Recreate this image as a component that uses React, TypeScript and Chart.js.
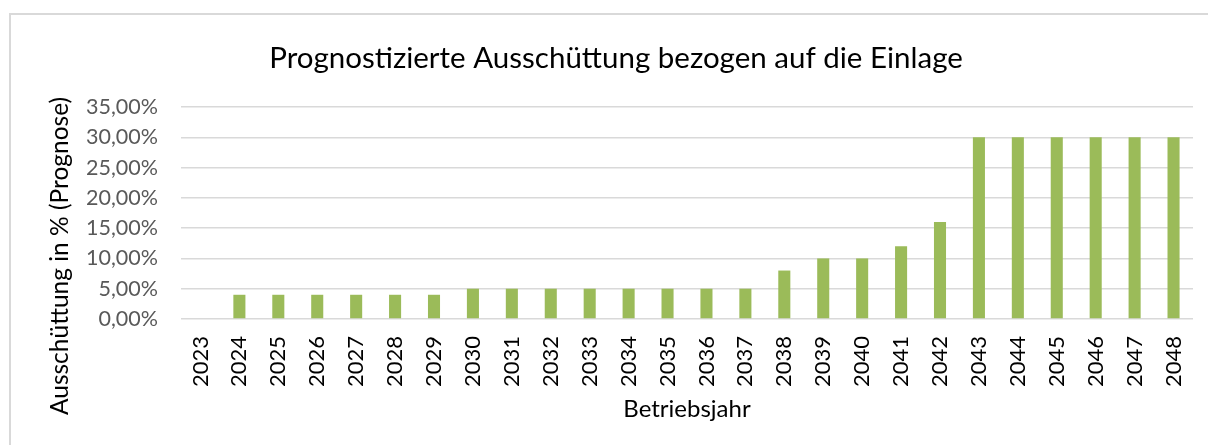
import React, { useEffect, useRef } from "react";
import { Chart, registerables } from "chart.js";

Chart.register(...registerables);

const years: string[] = [
  "2023", "2024", "2025", "2026", "2027", "2028", "2029", "2030", "2031",
  "2032", "2033", "2034", "2035", "2036", "2037", "2038", "2039", "2040",
  "2041", "2042", "2043", "2044", "2045", "2046", "2047", "2048",
];
const payoutPercent: number[] = [
  0, 4, 4, 4, 4, 4, 4, 5, 5, 5, 5, 5, 5, 5, 5, 8, 10, 10, 12, 16, 30, 30, 30, 30, 30, 30,
];
const titleText = "Prognostizierte Ausschüttung bezogen auf die Einlage";
const yTitleText = "Ausschüttung in % (Prognose)";
const xTitleText = "Betriebsjahr";

const FONT = "Lato, 'Open Sans', sans-serif";

const textPlugin = {
  id: "textPlugin",
  afterDraw(chart: any) {
    const ctx = chart.ctx;
    ctx.save();
    ctx.fillStyle = "#000000";
    ctx.textAlign = "center";
    ctx.textBaseline = "middle";
    ctx.font = `29.5px ${FONT}`;
    ctx.fillText(titleText, 605, 43);
    ctx.translate(49, 241);
    ctx.rotate(-Math.PI / 2);
    ctx.font = `24.5px ${FONT}`;
    ctx.fillText(yTitleText, 0, 0);
    ctx.restore();
  },
};

export default function App() {
  const canvasRef = useRef<HTMLCanvasElement | null>(null);

  useEffect(() => {
    if (!canvasRef.current) return;
    const chart = new Chart(canvasRef.current, {
      type: "bar",
      data: {
        labels: years,
        datasets: [
          {
            data: payoutPercent,
            backgroundColor: "#9BBB59",
            borderWidth: 0,
            barPercentage: 0.31,
            categoryPercentage: 1,
          },
        ],
      },
      plugins: [textPlugin],
      options: {
        animation: false,
        responsive: true,
        maintainAspectRatio: false,
        layout: { padding: { left: 0, right: 15, top: 92, bottom: 0 } },
        plugins: {
          legend: { display: false },
          tooltip: { enabled: false },
          title: { display: false },
        },
        scales: {
          x: {
            grid: { display: false, drawTicks: false },
            border: { display: false },
            ticks: {
              color: "#000000",
              font: { family: FONT, size: 22 },
              minRotation: 90,
              maxRotation: 90,
              padding: 17,
              autoSkip: false,
            },
            title: {
              display: true,
              text: xTitleText,
              color: "#000000",
              font: { family: FONT, size: 24, lineHeight: 1.2 },
              padding: { top: 0, bottom: 21 },
            },
            afterFit(scale: any) {
              scale.height = 126;
              scale.paddingLeft = 0;
              scale.paddingRight = 0;
            },
          },
          y: {
            min: 0,
            max: 35,
            grid: { color: "#d9d9d9", lineWidth: 1.5, drawTicks: false },
            border: { display: false },
            ticks: {
              stepSize: 5,
              color: "#595959",
              font: { family: FONT, size: 21.5 },
              padding: 23,
              callback: (v: any) => Number(v).toFixed(2).replace(".", ",") + "%",
            },
            afterFit(scale: any) {
              scale.width = 170;
            },
          },
        },
      },
    });
    return () => chart.destroy();
  }, []);

  return (
    <div
      style={{
        position: "fixed",
        left: 9,
        top: 13,
        width: 1199,
        height: 432,
        boxSizing: "border-box",
        borderTop: "2px solid #d9d9d9",
        borderLeft: "2px solid #d9d9d9",
        background: "#ffffff",
      }}
    >
      <div style={{ position: "absolute", left: 0, top: 0, width: 1197, height: 430 }}>
        <canvas ref={canvasRef} />
      </div>
    </div>
  );
}
